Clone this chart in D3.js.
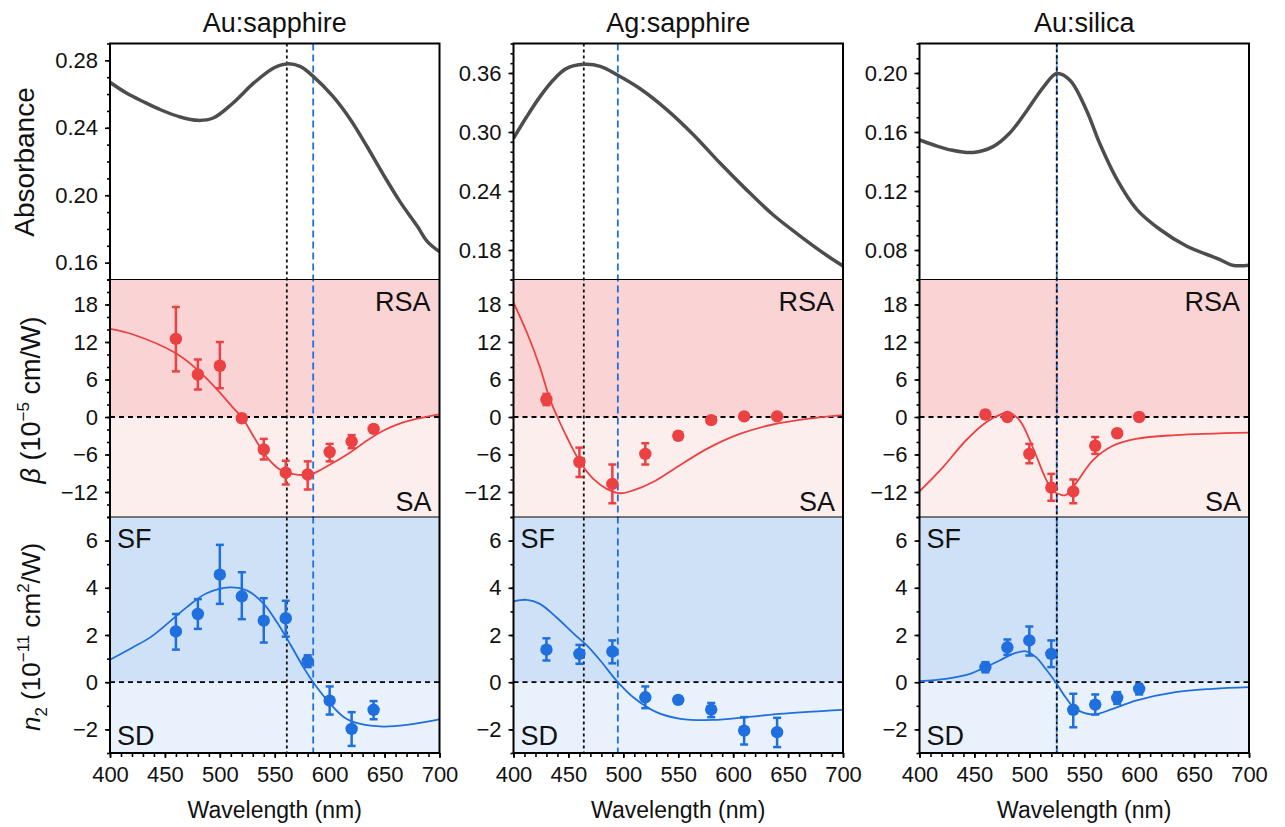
<!DOCTYPE html>
<html lang="en">
<head>
<meta charset="UTF-8">
<title>Absorbance, beta and n2 spectra</title>
<script src="https://d3js.org/d3.v7.min.js"></script>
<style>
  body, html { margin: 0; padding: 0; background: #fff; overflow: hidden; }
  svg { display: block; font-family: "Liberation Sans", Arial, sans-serif; }
</style>
</head>
<body>
<svg width="1285" height="827"></svg>
<script>
// ---- data ----
const samples = ["Au:sapphire", "Ag:sapphire", "Au:silica"];

// absorbance spectra [nm, A]
const absAuSapphire = [[400,0.267],[415,0.2606],[430,0.2556],[446,0.2507],[464,0.2464],[480,0.2444],[494,0.2458],[512,0.2547],[531,0.2666],[549,0.2755],[561,0.2779],[573,0.2764],[585,0.2705],[603,0.2586],[619,0.2448],[634,0.2289],[649,0.2121],[664,0.1962],[680,0.1814],[689,0.1725],[700,0.1665]];
const absAgSapphire = [[400,0.2936],[412,0.3155],[424,0.3357],[436,0.3526],[448,0.3644],[464,0.3688],[479,0.3668],[495,0.3577],[515,0.3442],[540,0.3223],[564,0.2970],[588,0.2684],[612,0.2414],[636,0.2161],[661,0.1942],[685,0.1747],[700,0.1638]];
const absAuSilica = [[400,0.1546],[413,0.1512],[428,0.1479],[449,0.1461],[467,0.1501],[482,0.1591],[498,0.1748],[513,0.1906],[525,0.1996],[537,0.1951],[552,0.1748],[564,0.1524],[580,0.1276],[598,0.1074],[619,0.0939],[643,0.0827],[673,0.0737],[685,0.0697],[700,0.0697]];

// beta measurements [nm, value, upper, lower] (10^-5 cm/W)
const betaAuSapphire = [[460,12.5,17.6,7.3],[480,6.8,9.2,4.4],[500,8.2,12.0,4.6],[520,-0.2,0.3,-0.7],[540,-5.2,-3.5,-6.8],[560,-8.9,-7.0,-10.8],[580,-9.2,-7.1,-11.6],[600,-5.6,-4.3,-7.1],[620,-3.9,-2.9,-5.0],[640,-1.9,-1.4,-2.4]];
const betaAgSapphire = [[430,2.8,3.7,1.9],[460,-7.2,-4.9,-9.6],[490,-10.7,-7.6,-13.8],[520,-5.9,-4.2,-7.6],[550,-3.0,-2.5,-3.6],[580,-0.5,0,-1.0],[610,0.1,0.5,-0.3],[640,0.1,0.5,-0.3]];
const betaAuSilica = [[460,0.4,1.0,-0.2],[480,0,0.5,-0.5],[500,-5.9,-4.3,-7.4],[520,-11.3,-9.1,-13.4],[540,-11.9,-10.0,-13.8],[560,-4.6,-3.2,-5.9],[580,-2.6,-2.0,-3.2],[600,0,0.5,-0.5]];

// beta model curves [nm, value]
const betaAuSapphireFit = [[400,14.1],[421,13.2],[460,10.2],[480,7.5],[498,4.3],[513,1.3],[520,0],[531,-3.2],[543,-6.45],[555,-8.44],[567,-9.13],[580,-9.24],[586,-8.97],[604,-7.25],[619,-5.64],[634,-3.76],[649,-2.15],[665,-0.97],[680,-0.27],[700,0.43]];
const betaAgSapphireFit = [[400,18.3],[412,13.6],[424,8.0],[433,2.9],[440,0],[448.5,-3.2],[460.6,-7.2],[472.7,-9.9],[484.8,-11.5],[497,-12.2],[509,-11.75],[527,-10.4],[545.5,-8.4],[576,-5.1],[606,-2.7],[636,-1.2],[667,-0.3],[700,0.3]];
const betaAuSilicaFit = [[400,-11.9],[421,-8.1],[442,-3.8],[461,-0.8],[475,0.5],[481,0.7],[491,-0.5],[503,-4.8],[515,-9.9],[522,-11.9],[528,-12.4],[533,-12.5],[542,-10.7],[558,-6.9],[576,-4.6],[597,-3.5],[633,-2.9],[700,-2.5]];

// n2 measurements [nm, value, upper, lower] (10^-11 cm^2/W)
const n2AuSapphire = [[460,2.15,2.89,1.38],[480,2.89,3.52,2.26],[500,4.56,5.82,3.32],[520,3.64,4.66,2.67],[540,2.61,3.56,1.68],[560,2.71,3.45,1.93],[580,0.89,1.14,0.64],[600,-0.78,-0.18,-1.37],[620,-1.98,-1.27,-2.70],[640,-1.17,-0.80,-1.57]];
const n2AgSapphire = [[430,1.38,1.86,0.92],[460,1.2,1.58,0.78],[490,1.3,1.77,0.8],[520,-0.64,-0.18,-1.10],[550,-0.75,-0.6,-0.9],[580,-1.16,-0.88,-1.48],[610,-2.05,-1.48,-2.64],[640,-2.12,-1.51,-2.75]];
const n2AuSilica = [[460,0.64,0.85,0.42],[480,1.48,1.81,1.16],[500,1.77,2.36,1.13],[520,1.2,1.77,0.64],[540,-1.17,-0.49,-1.91],[560,-0.95,-0.52,-1.37],[580,-0.66,-0.42,-0.92],[600,-0.28,-0.07,-0.52]];

// n2 model curves [nm, value]
const n2AuSapphireFit = [[400,0.95],[421,1.48],[437,1.91],[452,2.47],[470,3.18],[488,3.77],[509,4.02],[525,3.88],[540,3.32],[552,2.54],[564,1.62],[576,0.64],[585,0],[598,-0.78],[613,-1.48],[628,-1.77],[649,-1.88],[670,-1.81],[700,-1.58]];
const n2AgSapphireFit = [[400,3.43],[412,3.49],[424,3.32],[439,2.75],[455,2.05],[467,1.55],[479,0.92],[495,0],[509,-0.64],[530,-1.27],[552,-1.55],[582,-1.6],[612,-1.48],[642,-1.34],[700,-1.17]];
const n2AuSilicaFit = [[400,0.04],[424,0.14],[446,0.35],[460,0.64],[473,0.92],[485,1.2],[497,1.31],[506,1.06],[515,0.56],[524,0],[533,-0.64],[542,-1.13],[558,-1.37],[576,-1.13],[597,-0.78],[633,-0.42],[667,-0.28],[700,-0.21]];

// reference wavelengths: plasmon peak (black dotted) and n2 sign change (blue dashed)
const peakNm = [561, 464, 525];
const crossNm = [585, 495, 525];

// axis ranges and ticks
const xDomain = [400, 700];
const xTicks = [400, 450, 500, 550, 600, 650, 700];
const absDomains = [[0.15, 0.29], [0.15, 0.39], [0.06, 0.22]];
const absTicks = [[0.16, 0.20, 0.24, 0.28], [0.18, 0.24, 0.30, 0.36], [0.08, 0.12, 0.16, 0.20]];
const betaDomain = [-16, 22];
const betaTicks = [-12, -6, 0, 6, 12, 18];
const n2Domain = [-3, 7];
const n2Ticks = [-2, 0, 2, 4, 6];

const absData = [absAuSapphire, absAgSapphire, absAuSilica];
const betaData = [betaAuSapphire, betaAgSapphire, betaAuSilica];
const betaFits = [betaAuSapphireFit, betaAgSapphireFit, betaAuSilicaFit];
const n2Data = [n2AuSapphire, n2AgSapphire, n2AuSilica];
const n2Fits = [n2AuSapphireFit, n2AgSapphireFit, n2AuSilicaFit];

// ---- layout / style ----
const colX = [110, 513.5, 919.5];
const colW = 329.5;
const rowY = [43.5, 279.5, 517, 753];

const red = "#ec4143", blue = "#1f6fde";
const rsaFill = "#fad4d5", saFill = "#fdeeee";
const sfFill = "#cfe1f7", sdFill = "#e8f1fc";
const tickFont = 22;

const svg = d3.select("svg");
const defs = svg.append("defs");

function minorTicks(domain, step) {
  const out = [];
  const start = Math.ceil(domain[0] / step - 1e-9);
  const end = Math.floor(domain[1] / step + 1e-9);
  for (let k = start; k <= end; k++) out.push(+(k * step).toFixed(4));
  return out;
}

function styleAxis(g) {
  g.select(".domain").remove();
  g.selectAll(".tick line").attr("stroke", "#000").attr("stroke-width", 1.6);
  g.selectAll(".tick text").attr("font-size", tickFont).attr("fill", "#111")
    .attr("font-family", "Liberation Sans, Arial, sans-serif");
}

function drawYAxis(g, y, ticks, minorStep, fmt) {
  g.append("g").call(d3.axisLeft(y).tickValues(minorTicks(y.domain(), minorStep)).tickSize(3).tickFormat(""))
    .call(styleAxis);
  g.append("g").call(d3.axisLeft(y).tickValues(ticks).tickSize(5).tickPadding(7).tickFormat(fmt))
    .call(styleAxis);
}

samples.forEach((name, i) => {
  const x0 = colX[i], x1 = colX[i] + colW;
  const x = d3.scaleLinear().domain(xDomain).range([x0, x1]);
  const yA = d3.scaleLinear().domain(absDomains[i]).range([rowY[1], rowY[0]]);
  const yB = d3.scaleLinear().domain(betaDomain).range([rowY[2], rowY[1]]);
  const yN = d3.scaleLinear().domain(n2Domain).range([rowY[3], rowY[2]]);

  const g = svg.append("g");

  // clip per row
  [0, 1, 2].forEach(r => {
    defs.append("clipPath").attr("id", `clip-${i}-${r}`)
      .append("rect").attr("x", x0).attr("y", rowY[r]).attr("width", colW).attr("height", rowY[r + 1] - rowY[r]);
  });

  // shaded regions
  g.append("rect").attr("x", x0).attr("width", colW).attr("y", yB(22)).attr("height", yB(0) - yB(22)).attr("fill", rsaFill);
  g.append("rect").attr("x", x0).attr("width", colW).attr("y", yB(0)).attr("height", yB(-16) - yB(0)).attr("fill", saFill);
  g.append("rect").attr("x", x0).attr("width", colW).attr("y", yN(7)).attr("height", yN(0) - yN(7)).attr("fill", sfFill);
  g.append("rect").attr("x", x0).attr("width", colW).attr("y", yN(0)).attr("height", yN(-3) - yN(0)).attr("fill", sdFill);

  // zero lines
  [yB, yN].forEach(y => {
    g.append("line").attr("x1", x0).attr("x2", x1).attr("y1", y(0)).attr("y2", y(0))
      .attr("stroke", "#000").attr("stroke-width", 1.8).attr("stroke-dasharray", "5,4");
  });

  // vertical reference lines
  g.append("line").attr("x1", x(crossNm[i])).attr("x2", x(crossNm[i])).attr("y1", rowY[0]).attr("y2", rowY[3])
    .attr("stroke", blue).attr("stroke-width", 1.8).attr("stroke-dasharray", "7,4");
  g.append("line").attr("x1", x(peakNm[i])).attr("x2", x(peakNm[i])).attr("y1", rowY[0]).attr("y2", rowY[3])
    .attr("stroke", "#111").attr("stroke-width", 1.8).attr("stroke-dasharray", "3,3");

  // absorbance
  const absLine = d3.line().x(d => x(d[0])).y(d => yA(d[1])).curve(d3.curveCatmullRom.alpha(0.5));
  g.append("path").attr("d", absLine(absData[i])).attr("clip-path", `url(#clip-${i}-0)`)
    .attr("fill", "none").attr("stroke", "#4d4d4d").attr("stroke-width", 3.5);

  // beta and n2 rows
  [[yB, betaData[i], betaFits[i], red, 1], [yN, n2Data[i], n2Fits[i], blue, 2]].forEach(([y, pts, fit, col, r]) => {
    const fitLine = d3.line().x(d => x(d[0])).y(d => y(d[1])).curve(d3.curveCatmullRom.alpha(0.5));
    g.append("path").attr("d", fitLine(fit)).attr("clip-path", `url(#clip-${i}-${r})`)
      .attr("fill", "none").attr("stroke", col).attr("stroke-width", 1.8);
    const pg = g.append("g").attr("fill", col).attr("stroke", col);
    const eb = pg.selectAll(".eb").data(pts).join("g");
    eb.append("line").attr("x1", d => x(d[0])).attr("x2", d => x(d[0]))
      .attr("y1", d => y(d[2])).attr("y2", d => y(d[3])).attr("stroke-width", 2.5);
    eb.append("line").attr("x1", d => x(d[0]) - 4).attr("x2", d => x(d[0]) + 4)
      .attr("y1", d => y(d[2])).attr("y2", d => y(d[2])).attr("stroke-width", 2.5);
    eb.append("line").attr("x1", d => x(d[0]) - 4).attr("x2", d => x(d[0]) + 4)
      .attr("y1", d => y(d[3])).attr("y2", d => y(d[3])).attr("stroke-width", 2.5);
    eb.append("circle").attr("cx", d => x(d[0])).attr("cy", d => y(d[1])).attr("r", 6.2).attr("stroke", "none");
  });

  // region labels
  g.append("text").attr("x", x1 - 9).attr("y", rowY[1] + 31).attr("text-anchor", "end").attr("font-size", 27).attr("fill", "#111").text("RSA");
  g.append("text").attr("x", x1 - 8).attr("y", rowY[2] - 6).attr("text-anchor", "end").attr("font-size", 27).attr("fill", "#111").text("SA");
  g.append("text").attr("x", x0 + 7).attr("y", rowY[2] + 31).attr("font-size", 27).attr("fill", "#111").text("SF");
  g.append("text").attr("x", x0 + 7).attr("y", rowY[3] - 8).attr("font-size", 27).attr("fill", "#111").text("SD");

  // axes
  drawYAxis(g.append("g").attr("transform", `translate(${x0},0)`), yA, absTicks[i], 0.01, d3.format(".2f"));
  drawYAxis(g.append("g").attr("transform", `translate(${x0},0)`), yB, betaTicks, 2, d3.format("d"));
  drawYAxis(g.append("g").attr("transform", `translate(${x0},0)`), yN, n2Ticks, 1, d3.format("d"));

  const xa = g.append("g").attr("transform", `translate(0,${rowY[3]})`);
  xa.append("g").call(d3.axisBottom(x).tickValues(d3.range(400, 701, 10)).tickSize(4).tickFormat("")).call(styleAxis);
  xa.append("g").call(d3.axisBottom(x).tickValues(xTicks).tickSize(5).tickPadding(8).tickFormat(d3.format("d"))).call(styleAxis);

  // frame and row separators
  g.append("rect").attr("x", x0).attr("y", rowY[0]).attr("width", colW).attr("height", rowY[3] - rowY[0])
    .attr("fill", "none").attr("stroke", "#000").attr("stroke-width", 2);
  [rowY[1], rowY[2]].forEach(yy => {
    g.append("line").attr("x1", x0).attr("x2", x1).attr("y1", yy).attr("y2", yy).attr("stroke", "#000").attr("stroke-width", 1);
  });

  // titles
  svg.append("text").attr("x", (x0 + x1) / 2).attr("y", 32).attr("text-anchor", "middle")
    .attr("font-size", 27).attr("fill", "#111").text(name);
  svg.append("text").attr("x", (x0 + x1) / 2).attr("y", 818).attr("text-anchor", "middle")
    .attr("font-size", 23).attr("fill", "#111").text("Wavelength (nm)");
});

// y axis titles
svg.append("text").attr("transform", "translate(34,162) rotate(-90)").attr("text-anchor", "middle")
  .attr("font-size", 28).attr("fill", "#111").text("Absorbance");

const bt = svg.append("text").attr("transform", "translate(40,400) rotate(-90)").attr("text-anchor", "middle")
  .attr("font-size", 27).attr("fill", "#111");
bt.append("tspan").attr("font-style", "italic").text("β");
bt.append("tspan").text(" (10");
bt.append("tspan").attr("font-size", 17).attr("dy", -11).text("−5");
bt.append("tspan").attr("dy", 11).text(" cm/W)");

const nt = svg.append("text").attr("transform", "translate(40,637) rotate(-90)").attr("text-anchor", "middle")
  .attr("font-size", 26).attr("fill", "#111");
nt.append("tspan").attr("font-style", "italic").text("n");
nt.append("tspan").attr("font-size", 17).attr("dy", 7).text("2");
nt.append("tspan").attr("dy", -7).text(" (10");
nt.append("tspan").attr("font-size", 17).attr("dy", -11).text("−11");
nt.append("tspan").attr("dy", 11).text(" cm");
nt.append("tspan").attr("font-size", 17).attr("dy", -11).text("2");
nt.append("tspan").attr("dy", 11).text("/W)");
</script>
</body>
</html>
